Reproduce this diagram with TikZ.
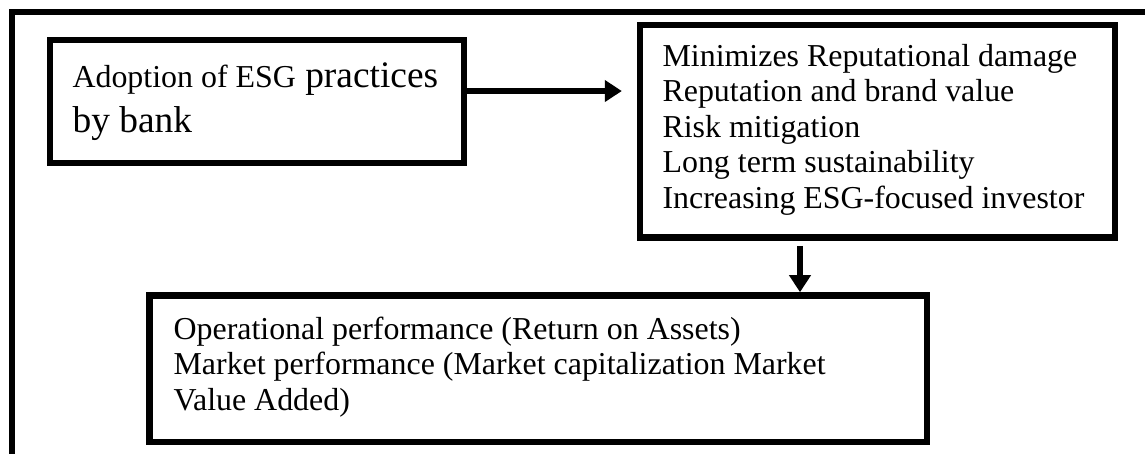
\documentclass[tikz,border=0pt]{standalone}
\usepackage{fontspec}
\setmainfont{Liberation Serif}
\usetikzlibrary{arrows.meta}

\begin{document}
\begin{tikzpicture}[>={Triangle[length=6.2pt,width=7.6pt]},
  box/.style={draw,line width=2.4pt,inner sep=0pt},
  boxtext/.style={anchor=base west,align=left,inner sep=0pt,font=\fontsize{11.6}{12.9}\selectfont},
  flow/.style={->,line width=2.4pt}]

\clip (0,0) rectangle (14.63,-5.80);
% open frame: only the left and top edges show
\draw[line width=2.2pt] (0.153,-6) -- (0.153,-0.153) -- (15,-0.153);

% the three boxes
\node[box,minimum width=5.29cm,minimum height=1.572cm] (adopt) at (3.284,-1.297) {};
\node[box,minimum width=6.07cm,minimum height=2.715cm] (benefit) at (11.213,-1.677) {};
\node[box,minimum width=9.935cm,minimum height=1.872cm] (perf) at (6.878,-4.712) {};

% their texts (base = baseline of the last line)
\node[boxtext,font=\fontsize{13.6}{16.7}\selectfont] (adoptText) at (0.920,-1.699)
  {{\fontsize{11.6}{16.7}\selectfont Adoption of ESG} practices\\by bank};
\node[boxtext] (benefitText) at (8.459,-2.658)
  {Minimizes Reputational damage\\Reputation and brand value\\Risk mitigation\\
   Long term sustainability\\Increasing ESG-focused investor};
\node[boxtext] (perfText) at (2.211,-5.239)
  {Operational performance (Return on Assets)\\
   Market performance (Market capitalization Market\\Value Added)};

% arrows
\coordinate (arrowStart) at ([yshift=0.134cm]adopt.east);
\coordinate (drop) at (10.222,0);
\draw[flow,shorten >=0.19cm] (arrowStart) -- (arrowStart -| benefit.west);
\draw[flow,shorten <=0.064cm] (drop |- benefit.south) -- (drop |- perf.north);
\end{tikzpicture}
\end{document}
